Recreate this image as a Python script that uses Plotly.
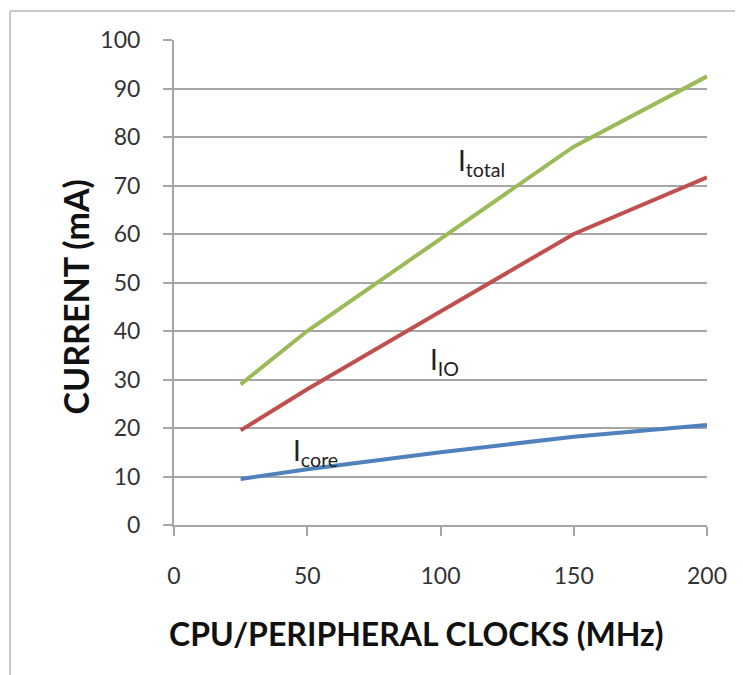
import plotly.graph_objects as go

# clock frequency (MHz) and measured currents (mA)
clocks = [25, 50, 100, 150, 200]
i_total = [29, 40, 59, 78, 92.5]
i_io = [19.5, 28, 44, 60, 71.7]
i_core = [9.5, 11.5, 15, 18.2, 20.6]

x_ticks = [0, 50, 100, 150, 200]
y_ticks = [0, 10, 20, 30, 40, 50, 60, 70, 80, 90, 100]

FONT = "Lato, Open Sans, sans-serif"
GRID = "#A6A6A6"

fig = go.Figure()
fig.add_trace(go.Scatter(x=clocks, y=i_total, mode="lines", name="Itotal",
                         line=dict(color="#9BBB59", width=4)))
fig.add_trace(go.Scatter(x=clocks, y=i_io, mode="lines", name="IIO",
                         line=dict(color="#C0504D", width=4)))
fig.add_trace(go.Scatter(x=clocks, y=i_core, mode="lines", name="Icore",
                         line=dict(color="#4F81BD", width=4)))

# series labels
labels = [("I<sub>total</sub>", 115.5, 74.8), ("I<sub>IO</sub>", 101.5, 33.8), ("I<sub>core</sub>", 53, 15)]
for txt, x, y in labels:
    fig.add_annotation(x=x, y=y, text=txt, showarrow=False,
                       font=dict(size=28, color="#222", family=FONT))

# axis titles
fig.add_annotation(x=0.455, y=-0.268, xref="paper", yref="paper",
                   text="<b>CPU/PERIPHERAL CLOCKS (MHz)</b>",
                   showarrow=False, font=dict(size=32, color="#111", family=FONT))
fig.add_annotation(x=-0.227, y=0.47, xref="paper", yref="paper", text="<b>CURRENT (mA)</b>",
                   textangle=-90, showarrow=False, font=dict(size=34, color="#111", family=FONT))

# outer frame
fig.add_shape(type="line", xref="paper", yref="paper", x0=-0.3077, x1=1.2, y0=1.06, y1=1.06,
              line=dict(color="#C8C8C8", width=2))
fig.add_shape(type="line", xref="paper", yref="paper", x0=-0.3077, x1=-0.3077, y0=1.06, y1=-0.4,
              line=dict(color="#C8C8C8", width=2))

fig.update_xaxes(range=[0, 200], tickvals=x_ticks, showgrid=False, zeroline=False,
                 showline=True, linecolor=GRID, linewidth=2, ticks="outside",
                 tickcolor=GRID, ticklen=9, tickwidth=2, ticklabelstandoff=20,
                 tickfont=dict(size=23, color="#333", family=FONT))
fig.update_yaxes(range=[0, 100], tickvals=y_ticks, showgrid=True, gridcolor=GRID,
                 gridwidth=2, zeroline=False, showline=True, linecolor=GRID,
                 linewidth=2, ticks="outside", tickcolor=GRID, ticklen=9, tickwidth=2,
                 ticklabelstandoff=18, tickfont=dict(size=23, color="#333", family=FONT))

# the page puts the figure 8px in from the top-left corner
fig.update_layout(width=743, height=675, showlegend=False,
                  plot_bgcolor="white", paper_bgcolor="white",
                  margin=dict(l=166, r=44, t=32, b=158))

fig.write_html("out.html")
